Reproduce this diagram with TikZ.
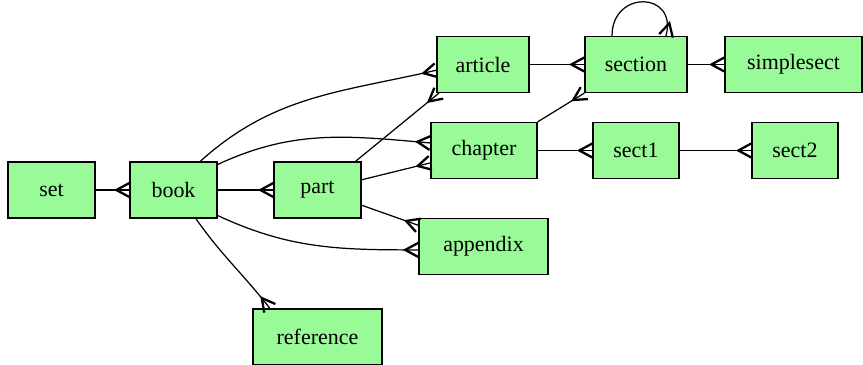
\documentclass[tikz,border=0pt]{standalone}
\usepackage{fontspec}
\setmainfont{Liberation Serif}
\usetikzlibrary{decorations.markings}

\definecolor{palegreen}{RGB}{152,251,152}

\tikzset{
    % Table boxes
    entity/.style={draw, line width=0.7pt, fill=palegreen, minimum height=1.12cm,
        inner sep=0pt, font=\fontsize{12.5}{15}\selectfont},
    % Relations - crow foot at the target
    rel/.style={line width=0.7pt,
        decoration={markings, mark=at position 0.999 with {
            \draw[line width=1.3pt] (0,1.4mm) -- (-2.6mm,0) -- (0,-1.4mm);}},
        postaction={decorate}},
}

\begin{document}
\begin{tikzpicture}[x=0.02cm, y=0.02cm]
    \useasboundingbox (0,0) rectangle (863,365);

    % Left column
    \node[entity, minimum width=1.74cm] (set) at (51.5,175) {set};
    \node[entity, minimum width=1.74cm] (book) at (173.5,175) {book};
    \node[entity, minimum width=1.74cm] (part) at (317.5,175) {part};
    \node[entity, minimum width=2.58cm] (reference) at (317.5,28) {reference};

    % Middle column
    \node[entity, minimum width=1.84cm] (article) at (483,300.5) {article};
    \node[entity, minimum width=2.12cm] (chapter) at (484,214.5) {chapter};
    \node[entity, minimum width=2.58cm] (appendix) at (483.5,118.5) {appendix};

    % Right columns
    \node[entity, minimum width=2.04cm] (section) at (636,300.5) {section};
    \node[entity, minimum width=2.74cm] (simplesect) at (793.5,300.5) {simplesect};
    \node[entity, minimum width=1.72cm] (sect1) at (636,214.5) {sect1};
    \node[entity, minimum width=1.72cm] (sect2) at (795,214.5) {sect2};

    % Relations from set and book
    \draw[rel] (set.east) -- (book.west);
    \draw[rel] (book.east) -- (part.west);
    \draw[rel] (book.47) to[out=42, in=193] (article.187);
    \draw[rel] (book.30) to[out=25, in=175] (chapter.172);
    \draw[rel] (book.-30) to[out=-25, in=180] (appendix.183);
    \draw[rel] (book.-52) to[out=-55, in=128] (reference.149);

    % Relations from part
    \draw[rel] (part.37) -- (article.213);
    \draw[rel] (part.13) -- (chapter.193);
    \draw[rel] (part.-19) -- (appendix.162);

    % Sections
    \draw[rel] (article.east) -- (section.west);
    \draw[rel] (section.east) -- (simplesect.west);
    \draw[rel] ([xshift=-0.48cm]section.north) to[out=90, in=75, looseness=2.2] ([xshift=0.6cm]section.north);
    \draw[rel] (chapter.north east) -- (section.south west);
    \draw[rel] (chapter.east) -- (sect1.west);
    \draw[rel] (sect1.east) -- (sect2.west);
\end{tikzpicture}
\end{document}
